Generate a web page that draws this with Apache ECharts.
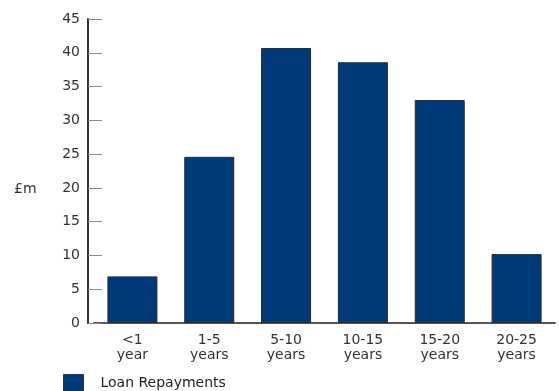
<!DOCTYPE html>
<html>
<head>
<meta charset="utf-8">
<script src="https://cdn.jsdelivr.net/npm/echarts@6/dist/echarts.min.js"></script>
<style>
  html, body { margin: 0; padding: 0; background: #fff; }
  #chart { width: 559px; height: 391px; }
</style>
</head>
<body>
<div id="chart"></div>
<script>
// maturity buckets
const categories = ['<1\nyear', '1-5\nyears', '5-10\nyears', '10-15\nyears', '15-20\nyears', '20-25\nyears']
// £m repayments
const repayments = [6.9, 24.6, 40.7, 38.6, 33.0, 10.2]
const seriesName = 'Loan Repayments'
const unitLabel = '£m'

const font = 'DejaVu Sans'
const myChart = echarts.init(document.getElementById('chart'))
const option = {
  animation: false,
  textStyle: { fontFamily: font },
  grid: {
    left: 94,
    right: 4,
    top: 19,
    bottom: 68
  },
  graphic: [
    {
      type: 'text',
      left: 14,
      top: 182,
      style: { text: unitLabel, fontSize: 14, fill: '#333', fontFamily: font }
    }
  ],
  legend: {
    left: 63,
    top: 374,
    padding: 0,
    itemWidth: 20,
    itemHeight: 18,
    icon: 'rect',
    itemStyle: { borderColor: '#333', borderWidth: 1 },
    textStyle: { fontSize: 14, color: '#222', padding: [0, 0, 0, 12] },
    data: [seriesName]
  },
  xAxis: {
    type: 'category',
    data: categories,
    axisLine: { lineStyle: { color: '#555', width: 2 } },
    axisTick: { show: false },
    axisLabel: {
      fontSize: 14,
      color: '#333',
      lineHeight: 15,
      margin: 10
    }
  },
  yAxis: {
    type: 'value',
    min: 0,
    max: 45,
    interval: 5,
    offset: 6,
    splitLine: { show: false },
    axisLine: { show: true, lineStyle: { color: '#333', width: 2 } },
    axisTick: { show: true, inside: true, length: 14, lineStyle: { color: '#888', width: 1 } },
    axisLabel: { fontSize: 14, color: '#333', margin: 8 }
  },
  series: [
    {
      name: seriesName,
      type: 'bar',
      barWidth: 50,
      data: repayments,
      itemStyle: {
        color: '#003a78',
        borderColor: '#2a2a2a',
        borderWidth: 1
      }
    }
  ]
}
myChart.setOption(option)
</script>
</body>
</html>
